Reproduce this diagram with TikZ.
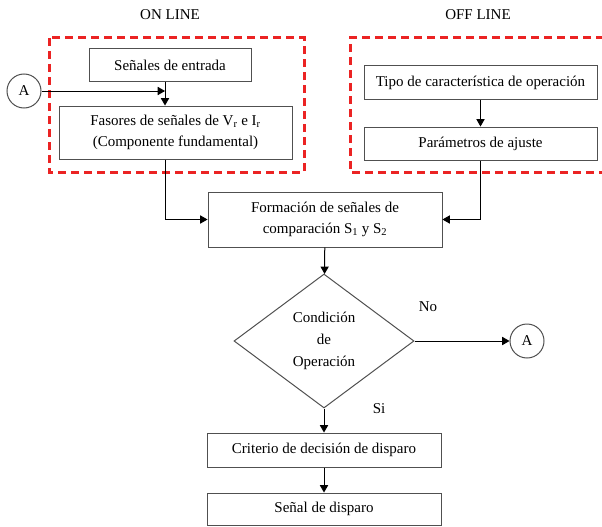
\documentclass[tikz,border=0pt]{standalone}
\usepackage{fontspec}
\setmainfont{Liberation Serif}
\usetikzlibrary{arrows, calc}
\usetikzlibrary{shapes.geometric}
\definecolor{myred}{RGB}{235, 35, 35}
\definecolor{mygray}{RGB}{80, 80, 80}
\tikzstyle{block} = [draw=mygray, line width=1, inner sep=2,
    minimum width=233, align=center, fill=white,
    font=\fontsize{15}{21}\selectfont]
\tikzstyle{decision} = [diamond, draw=mygray, line width=1, inner sep=0,
    minimum width=180, minimum height=134, align=center,
    font=\fontsize{15}{22}\selectfont]
\tikzstyle{connector} = [circle, draw=mygray, line width=1, minimum size=34,
    inner sep=0, font=\fontsize{15}{17}\selectfont]
\tikzstyle{label} = [font=\fontsize{15}{17}\selectfont]
\tikzstyle{zone} = [draw=myred, line width=3, dash pattern=on 8 off 5]

\begin{document}
\begin{tikzpicture}[x=1pt, y=-1pt]

\useasboundingbox (0,0) rectangle (602,527);


%%% titles
\node[label] (on) at (170,15) {ON LINE};
\node[label] (off) at (478,15) {OFF LINE};

%%% dashed zones
\draw[zone] (49,38) rectangle (304,172);
\draw[zone] (604,38) -- (350,38) -- (350,172) -- (604,172);


%%% on line
\node[block, minimum width=162, minimum height=32] (entrada) at (170,65) {Señales de entrada};
\node[block, minimum height=53] (fasores) at (175.5,132.5) {Fasores de señales de V\textsubscript{r} e I\textsubscript{r} \\ (Componente fundamental)};
\node[connector] (a1) at (24,91) {A};
\coordinate (j) at (165,91);

%%% off line
\node[block, minimum height=33] (tipo) at (480.5,82.5) {Tipo de característica de operación};
\node[block, minimum height=33] (param) at (480.5,143.5) {Parámetros de ajuste};


%%% main chain
\node[block, minimum width=234, minimum height=55] (formacion) at (325,219.5) {Formación de señales de \\ comparación S\textsubscript{1} y S\textsubscript{2}};
\node[decision] (cond) at (324,341) {Condición \\ de \\ Operación};
\node[connector] (a2) at (527,341) {A};
\node[block, minimum width=234, minimum height=34] (criterio) at (324,450) {Criterio de decisión de disparo};
\node[block, minimum width=234, minimum height=32] (disparo) at (324,509) {Señal de disparo};

\node[label] (no) at (428,307) {No};
\node[label] (si) at (379,409) {Si};


%%% arrows
\draw[-triangle 60, line width=1] (a1) -- (j);
\draw[-triangle 60, line width=1] (j |- entrada.south) -- (j |- fasores.north);
\draw[-triangle 60, line width=1] (tipo) -- (param);
\draw[-triangle 60, line width=1] (j |- fasores.south) |- (formacion.west);
\draw[-triangle 60, line width=1] (param.south) |- (formacion.east);
\draw[-triangle 60, line width=1] (formacion) -- (cond);
\draw[-triangle 60, line width=1] (cond) -- (a2);
\draw[-triangle 60, line width=1] (cond) -- (criterio);
\draw[-triangle 60, line width=1] (criterio) -- (disparo);


\end{tikzpicture}
\end{document}
